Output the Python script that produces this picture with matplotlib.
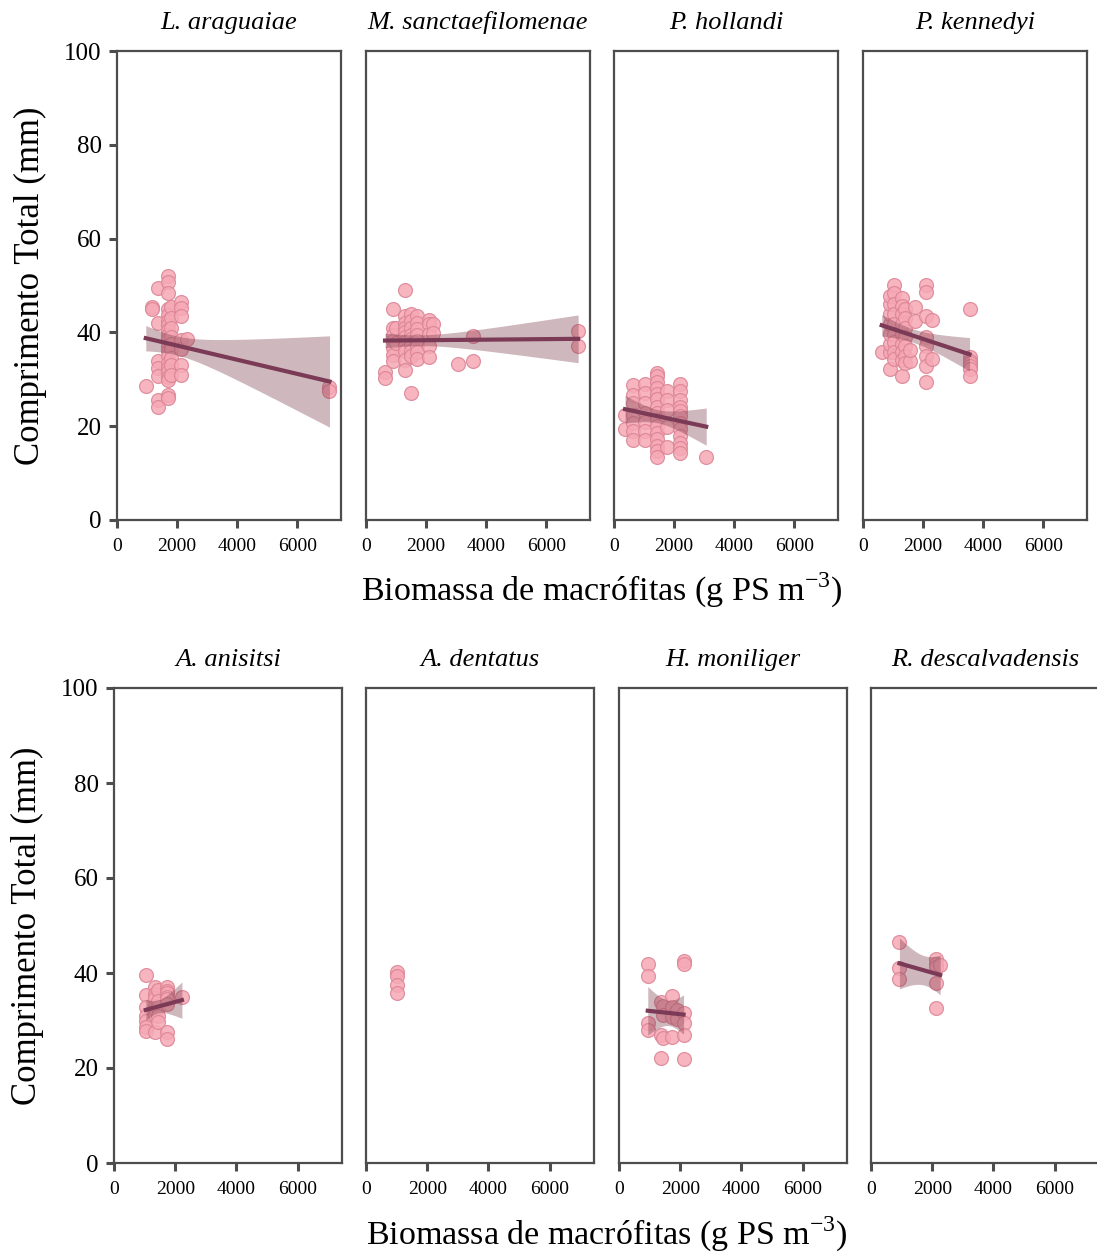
import numpy as np
import matplotlib
matplotlib.use("Agg")
import matplotlib.pyplot as plt

# nombres de especies (dos filas de paneles)
especies_sup = ["L. araguaiae", "M. sanctaefilomenae", "P. hollandi", "P. kennedyi"]
especies_inf = ["A. anisitsi", "A. dentatus", "H. moniliger", "R. descalvadensis"]

# biomasa (x) y comprimento total (y) por especie
x_lar = [957] + [1156] * 2 + [1367] * 7 + [1700] * 20 + [1800] * 9 + [2122] * 7 + [2322] + [7067] * 2
y_lar = [28.6, 45.5, 45.0, 49.5, 42, 34, 32.5, 30.6, 25.6, 24.2,
         52, 50.7, 48.5, 45, 43.8, 42.5, 41.5, 40.5, 39.5, 38.5, 37.2, 36, 35, 33.5, 32.5, 31.5, 30.5, 29.8, 26.6, 26.0,
         45.5, 43, 41, 39, 37.5, 36.5, 34.5, 33, 31,
         46.5, 45.2, 43.4, 38.4, 36.5, 33, 30.9, 38.6, 28.4, 27.4]

x_msa = [633] * 2 + [889] * 7 + [1000] * 2 + [1300] * 11 + [1489] * 9 + [1689] * 8 + [2111] * 5 + [2222] * 2 + [3044] + [3544] * 2 + [7056] * 2
y_msa = [31.6, 30.2, 45, 40.9, 39.5, 38.2, 36.6, 35.2, 33.8, 41, 37.8,
         49, 43.5, 42, 41, 40, 39, 38, 37, 36, 34.1, 32,
         27, 44, 42.5, 41, 39.5, 38.5, 37.5, 36, 35,
         43.6, 42, 40.8, 39.5, 38.2, 37, 35.8, 34.3,
         42.6, 41.8, 39.6, 37, 34.7, 41.8, 39.8, 33.3, 39.3, 33.9, 40.2, 37]

x_pho = [367] * 2 + [644] * 7 + [1033] * 7 + [1422] * 15 + [1756] * 5 + [2200] * 12 + [3067]
y_pho = [22.4, 19.5, 28.8, 26.6, 24.9, 22.4, 20.6, 18.9, 17,
         29.1, 27, 24.9, 22.8, 21, 18.9, 17,
         31.3, 30.6, 29.5, 28.2, 26.8, 25.7, 24.2, 22.8, 21.4, 20, 18.6, 17.2, 15.8, 14.7, 13.5,
         27.4, 25.6, 23.5, 19.9, 15.6,
         29.1, 27.4, 25.6, 24.2, 23.2, 22.1, 20.7, 19.3, 17.9, 16.5, 15.4, 14.2, 13.4]

x_pke = [622] + [900] * 8 + [1033] * 9 + [1289] * 9 + [1400] * 7 + [1567] * 2 + [1733] * 2 + [2100] * 8 + [2289] * 2 + [3544] * 7
y_pke = [35.9, 32.3, 35.9, 37.6, 39.7, 41.8, 44, 46.1, 47.8,
         50.1, 48.4, 46.1, 44, 41.8, 39.7, 37.9, 35.9, 34.4,
         30.6, 47.4, 45.6, 43.9, 41.8, 39.7, 37.6, 35.9, 34.1,
         45, 43, 41, 39, 37, 35, 33.5, 33.8, 36.2, 45.5, 42.4,
         50.1, 48.7, 43.4, 39.1, 37, 34.9, 32.8, 29.5, 42.6, 34.4,
         44.9, 34.8, 33.8, 33.4, 32.8, 32.3, 30.7]

x_aan = [1039] * 7 + [1344] * 7 + [1454] * 5 + [1727] * 8 + [2219]
y_aan = [39.6, 35.4, 32.9, 31.0, 29.8, 28.7, 27.8,
         37.1, 35.5, 34.8, 33.0, 32.2, 31.2, 27.6,
         36.5, 34.2, 32.8, 31.0, 29.7,
         37.1, 36.2, 35.8, 35.0, 34.5, 33.5, 27.6, 26.2, 34.9]

x_ade = [1016] * 4
y_ade = [40.2, 39.3, 37.5, 35.8]

x_hmo = [940] * 4 + [1366] * 3 + [1454] * 3 + [1727] * 4 + [1891] * 2 + [2109] * 6
y_hmo = [41.9, 39.4, 29.4, 28, 34, 27, 22.2, 33, 31.2, 26.3, 35.2, 32.9, 30.8, 26.6,
         32.2, 30.4, 42.6, 41.9, 31.6, 29.4, 27, 22]

x_rde = [929] * 3 + [2131] * 5 + [2262]
y_rde = [46.6, 41, 38.7, 42.9, 42, 41.3, 38, 32.6, 41.7]

datos_sup = [(x_lar, y_lar), (x_msa, y_msa), (x_pho, y_pho), (x_pke, y_pke)]
datos_inf = [(x_aan, y_aan), (x_ade, y_ade), (x_hmo, y_hmo), (x_rde, y_rde)]

plt.rcParams['font.family'] = ['Liberation Serif', 'DejaVu Serif']
plt.rcParams['mathtext.fontset'] = 'custom'
plt.rcParams['mathtext.rm'] = 'Liberation Serif'

col_punto = '#f6a8b5'
col_borde = '#db8494'
col_linea = '#7b3a55'
col_banda = '#7b3a4a'
col_eje = '#4d4d4d'

W, H = 1097, 1259
fig = plt.figure(figsize=(W / 100, H / 100), dpi=100)


def t975(df):
    z = 1.959964
    return z + (z**3 + z) / (4 * df) + (5 * z**5 + 16 * z**3 + 3 * z) / (96 * df**2)


def panel(ax, x, y, titulo, primero):
    x = np.asarray(x, float)
    y = np.asarray(y, float)
    ax.scatter(x, y, s=100, c=col_punto, edgecolors=col_borde, linewidths=0.9, alpha=0.85, zorder=2)
    if np.ptp(x) > 0:
        b, a = np.polyfit(x, y, 1)
        n = len(x)
        xs = np.linspace(x.min(), x.max(), 100)
        yhat = a + b * xs
        res = y - (a + b * x)
        s = np.sqrt(np.sum(res**2) / (n - 2))
        sxx = np.sum((x - x.mean())**2)
        se = s * np.sqrt(1 / n + (xs - x.mean())**2 / sxx)
        tq = t975(n - 2)
        ax.fill_between(xs, yhat - tq * se, yhat + tq * se, color=col_banda, alpha=0.36, lw=0, zorder=3)
        ax.plot(xs, yhat, color=col_linea, lw=3, zorder=4)
    ax.set_xlim(0, 7450)
    ax.set_ylim(0, 100)
    ax.set_xticks([0, 2000, 4000, 6000])
    ax.set_yticks([0, 20, 40, 60, 80, 100])
    for sp in ax.spines.values():
        sp.set_color(col_eje)
        sp.set_linewidth(1.6)
    ax.tick_params(axis='x', length=6, width=2.2, color=col_eje, labelsize=14, pad=7)
    ax.tick_params(axis='y', length=6, width=2.2, color=col_eje, labelsize=18, pad=5)
    if not primero:
        ax.tick_params(axis='y', left=False, labelleft=False)
    ax.set_title(titulo, fontsize=19, style='italic', pad=16)


def fila(lefts, ancho, top, bottom, nombres, datos, ylab_x, xlab_y):
    for i, (l, nom, (x, y)) in enumerate(zip(lefts, nombres, datos)):
        ax = fig.add_axes([l / W, 1 - bottom / H, ancho / W, (bottom - top) / H])
        panel(ax, x, y, nom, i == 0)
    fig.text(ylab_x / W, 1 - (top + bottom) / 2 / H, 'Comprimento Total (mm)',
             rotation=90, ha='center', va='center', fontsize=25)
    cx = (lefts[0] + lefts[-1] + ancho) / 2
    fig.text(cx / W, 1 - xlab_y / H, 'Biomassa de macrófitas (g PS m$^{\\mathregular{-3}}$)',
             ha='center', va='center', fontsize=24.5)


fila([117, 366, 614, 863], 224, 51, 520, especies_sup, datos_sup, 30, 590)
fila([114, 366, 619, 871], 228, 688, 1163, especies_inf, datos_inf, 27, 1234)

fig.savefig('out.png', dpi=100)
